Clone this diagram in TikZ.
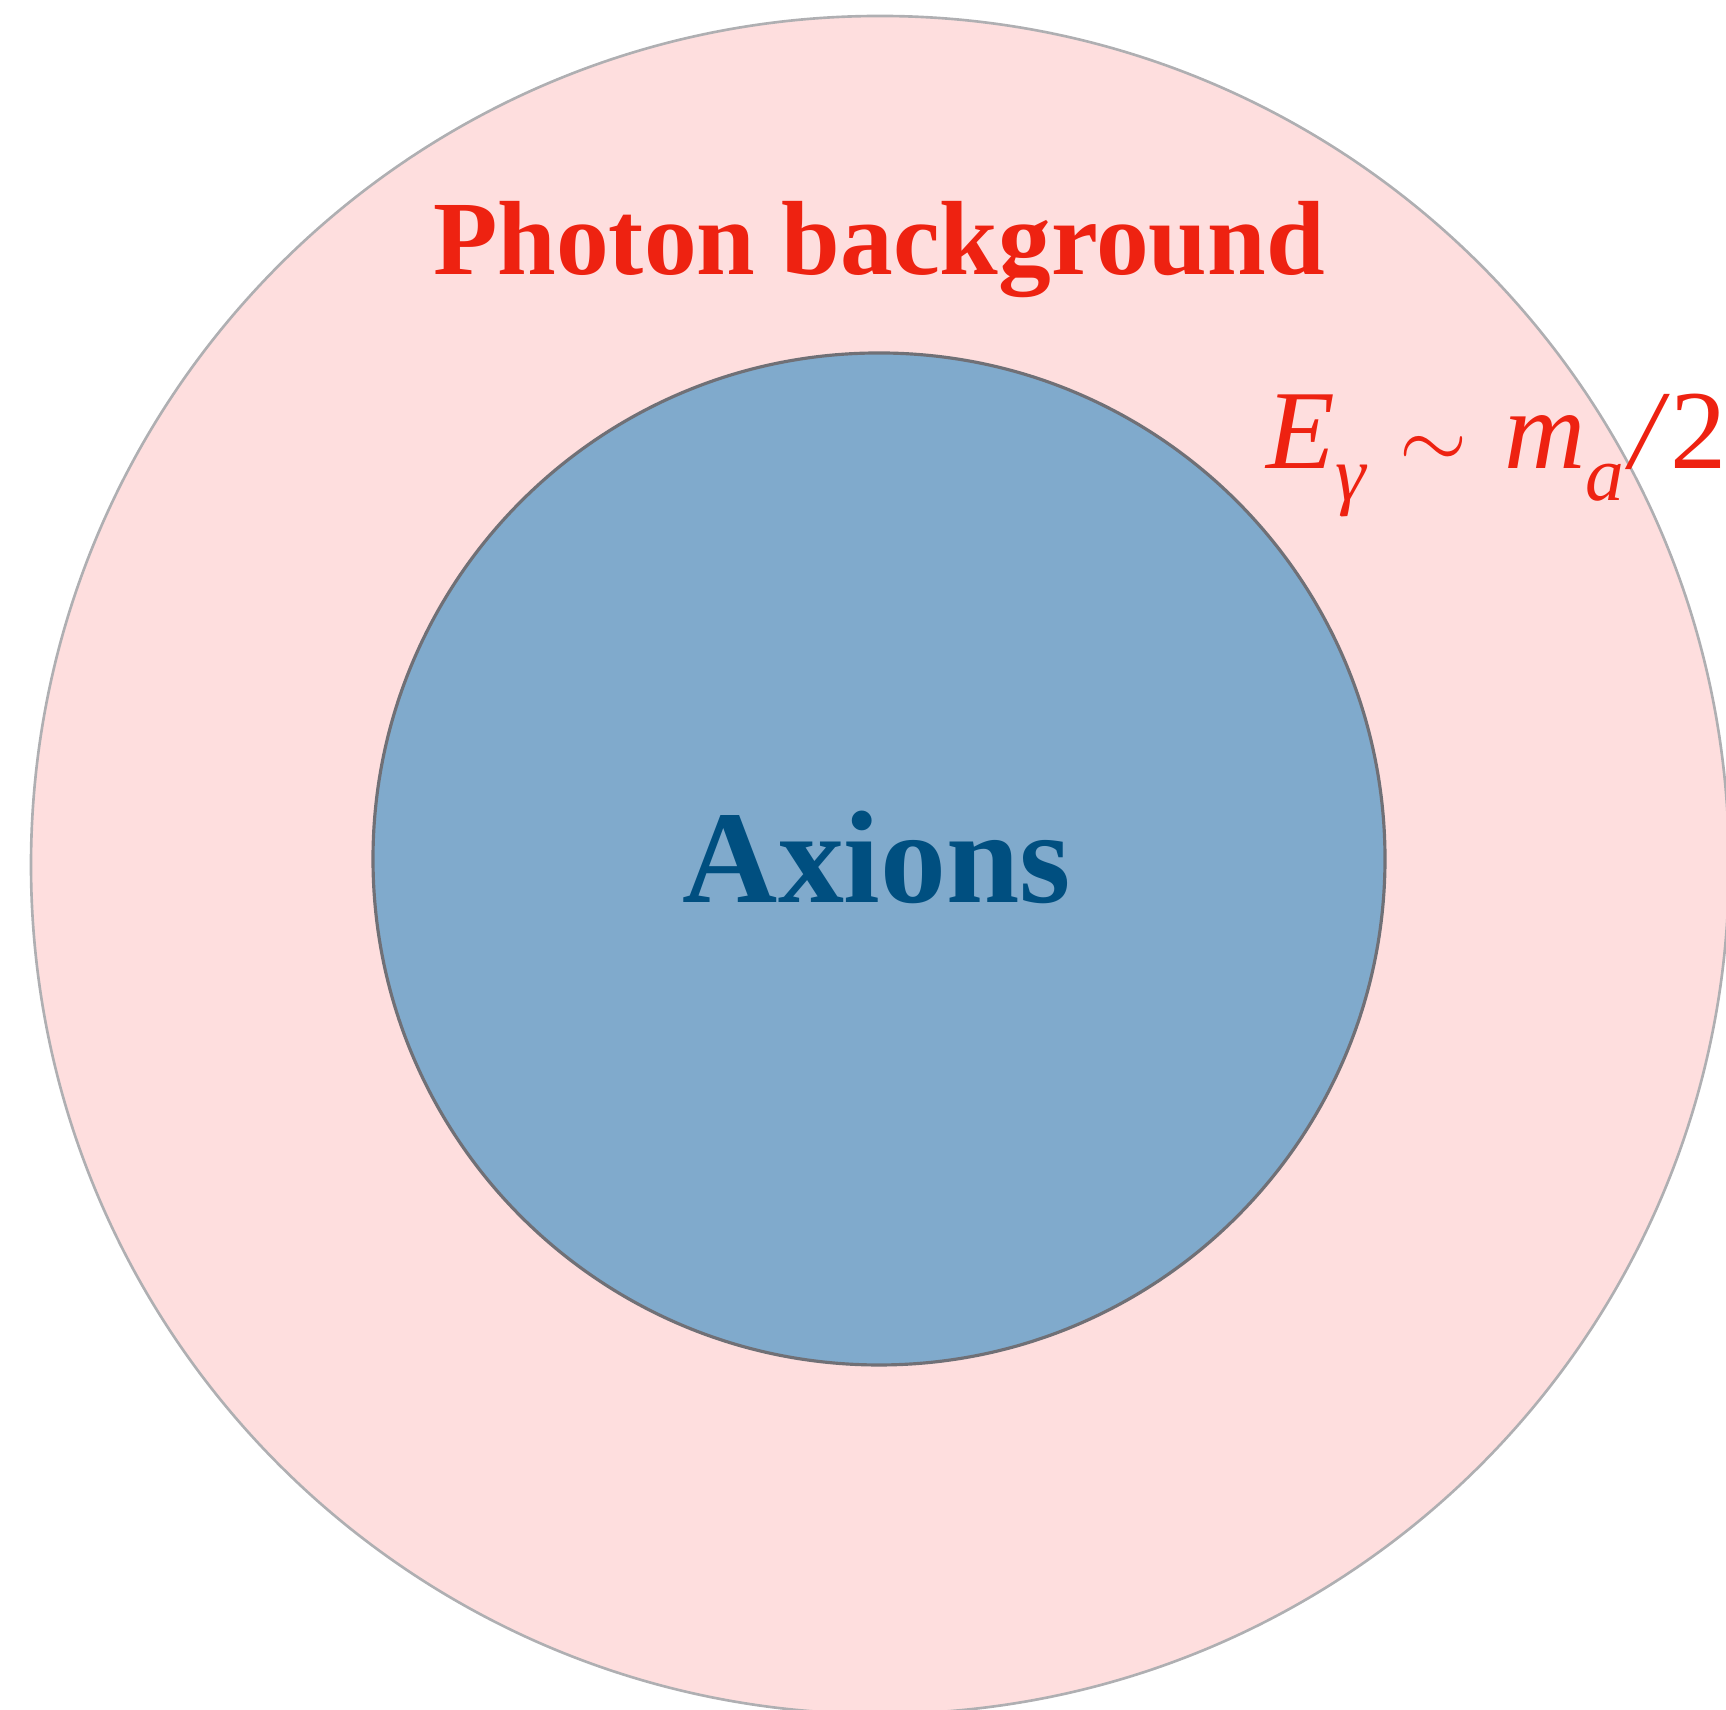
\documentclass[tikz,border=0pt]{standalone}
\usepackage{xcolor}
\usepackage{fontspec}
\setmainfont{Liberation Serif}
\usepackage{tikz}
\usetikzlibrary{positioning}
\definecolor{myred}{RGB}{238,34,17}
\definecolor{mypink}{RGB}{254,222,222}
\definecolor{myblue}{RGB}{128,170,204}
\definecolor{mynavy}{RGB}{0,79,128}
\definecolor{mylightgray}{RGB}{175,175,178}
\definecolor{mydarkgray}{RGB}{112,112,118}
\tikzset{
  bigdisk/.style={circle, draw=mylightgray, fill=mypink,
    minimum size=16.98cm, inner sep=0pt, line width=0.75pt},
  smalldisk/.style={circle, draw=mydarkgray, fill=myblue,
    minimum size=10.12cm, inner sep=0pt, line width=0.9pt},
  redlabel/.style={text=myred, inner sep=0pt,
    font=\fontsize{30}{36}\selectfont\bfseries},
  bluelabel/.style={text=mynavy, inner sep=0pt,
    font=\fontsize{37.5}{45}\selectfont\bfseries},
  formula/.style={text=myred, inner sep=0pt,
    font=\fontsize{32}{38}\selectfont}
}

\begin{document}
\begin{tikzpicture}
  \useasboundingbox (0,0) rectangle (17.26,17.10);
  \clip (0,0) rectangle (17.26,17.10);

  % --- Photon background (outer) ---
  \node[bigdisk] (photons) at (8.80,8.45) {};
  \node[redlabel, anchor=base] (photonlbl) at (8.79,14.35) {Photon background};

  % --- Energy of the photons ---
  \node[formula, anchor=base west] (energy) at (12.66,12.41)
    {\textit{E}\raisebox{-0.28em}{\fontsize{22}{22}\selectfont\itshape γ}\kern0.30em$\sim$\kern0.33em\textit{m}\raisebox{-0.28em}{\fontsize{22}{22}\selectfont\itshape a}\kern0.05em\textit{/}2};

  % --- Axions (inner) ---
  \node[smalldisk] (axions) at (8.79,8.51) {};
  \node[bluelabel, anchor=base] (axionlbl) at (8.77,8.07) {Axions};
\end{tikzpicture}
\end{document}
